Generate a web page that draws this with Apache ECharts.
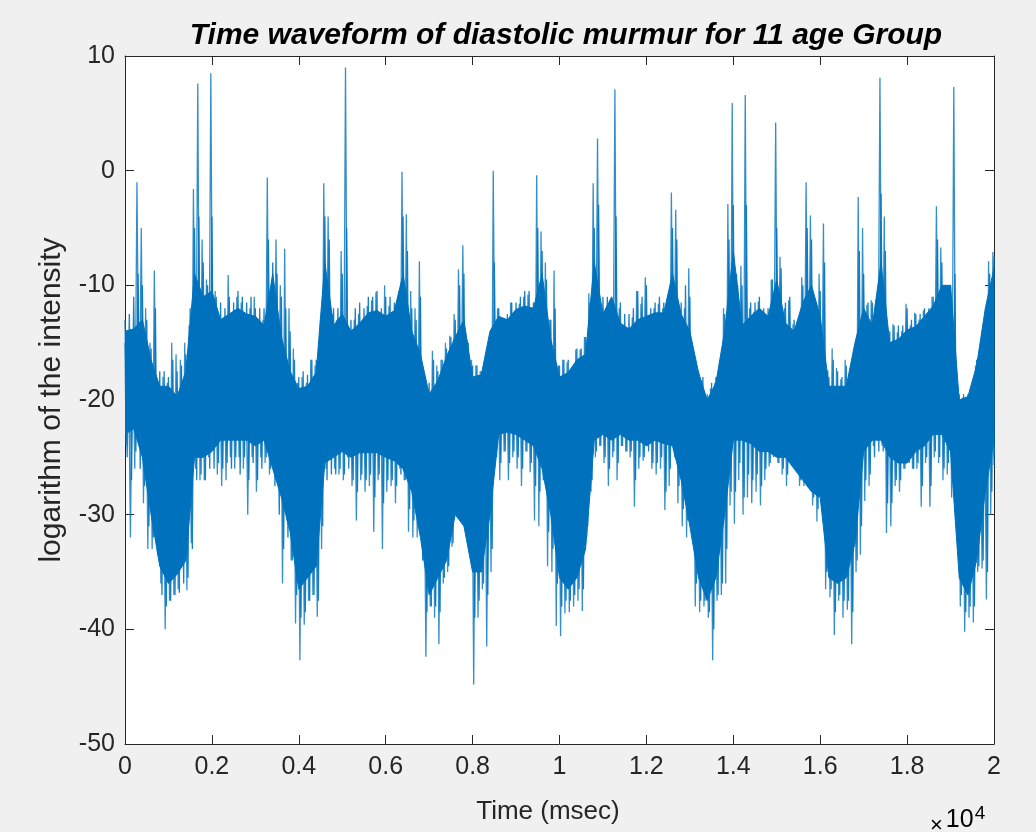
<!DOCTYPE html>
<html>
<head>
<meta charset="utf-8">
<title>Time waveform of diastolic murmur</title>
<script src="https://cdn.jsdelivr.net/npm/echarts@6/dist/echarts.min.js"></script>
<style>
  html, body { margin: 0; padding: 0; background: #f0f0f0; }
  #main { width: 1036px; height: 832px; }
</style>
</head>
<body>
<div id="main"></div>
<script>
// 采样间隔 (msec)：尖峰每 100 ms 一格，主体带每 200 ms 一格
var stepMs = 100;
var coreStepMs = 200;

// 尖峰上沿（每 100 ms）
var peakHi = [
  -15, -14.5, -14, -1, -5, -12, -15, -8.7, -19, -18,
  -18.5, -15, -16, -16.5, -15, -13.5, -1.6, 7.6, -6, -9.5,
  8.5, -10.5, -14, -13, -9.1, -12.5, -11, -11.5, -14.5, -12,
  -11, -13, -13, -0.6, -12, -6, -10, -6.8, -12, -15.5,
  -18.5, -18, -18.5, -16.5, -17, -16.5, -1.1, -4, -12.5, -13,
  -7, 9.0, -14, -13, -12.5, -13, -11.8, -11.3, -10.6, -13.5,
  -10, -11.8, -13, -11, -0.1, -3.8, -10.5, -12, -7.9, -19.5,
  -19, -15.7, -17, -16.5, -15, -14.4, -12.5, -8.6, -6.5, -14.8,
  -16.5, -17, -17.5, -17, -17.5, 0, -12, -14, -13.5, -11.5,
  -12.2, -11.6, -11, -10.8, -13, -0.4, -5.3, -8, -13, -8.7,
  -17, -16.5, -16.7, -19, -15.6, -15.6, -14.5, -10.7, -1.1, 2.8,
  -12, -12, -13.5, 7.1, -12, -13.5, -13.7, -12.8, -10.5, -11.6,
  -9.3, -12.7, -12, -11.6, -12, -11.6, -1.9, -3.4, -12.5, -12,
  -8.5, -16.7, -18.3, -18.3, -20, -19, -18.5, -17.2, -12, -2.9,
  5.9, -9, -8.3, 6.6, -12, -12.3, -11.4, -13, -12.8, -9.5,
  4.2, -7.5, -12, -11.3, -13.4, -14, -9.3, -1, -3.9, -12,
  -9, -4.6, -17.4, -15.5, -17.2, -18.2, -16.5, -18.5, -17, -2.3,
  -5, -11.7, -11.3, -11.6, 8.1, -4, -14.4, -13.4, -14.1, -14,
  -11.6, -13.5, -12.4, -13, -12.2, -12.8, -11, -3.1, -6.7, -10.5,
  -10.4, 7.3, -19.5, -19.8, -19.8, -19, -17, -16.5, -15.6, -7.9,
  -7.1
];

// 尖峰下沿（每 100 ms）
var peakLo = [
  -24, -32, -26, -23, -29, -33, -33, -28, -36, -40,
  -37.5, -37, -36.5, -33.5, -36.6, -32.5, -26, -27, -27, -25,
  -24, -26.5, -27.5, -27, -25, -26, -25, -26, -30, -25,
  -28, -25, -25.5, -26.5, -25, -26, -36, -30.5, -34, -39.5,
  -42.7, -39.6, -37.5, -37, -38.9, -33, -26, -25, -26, -26.5,
  -27, -25, -27.5, -30.5, -27, -28, -27.5, -31.5, -27, -33,
  -28, -27.5, -29, -26, -27, -31.5, -32, -32, -28.6, -42.4,
  -38, -39, -41.3, -36, -35, -32.8, -29, -25, -27.5, -33,
  -44.8, -39, -36.5, -41.5, -35, -24, -27, -24.5, -27, -25,
  -26, -27.5, -24.5, -26.3, -30.5, -31, -27, -34.5, -35, -39.7,
  -40.6, -38.6, -38.5, -38, -37.5, -38.4, -32, -28, -25, -24,
  -25.5, -27.5, -25, -27, -24, -24.5, -25, -29.3, -26, -25.3,
  -24, -26, -26.5, -26, -29.6, -27.5, -24, -29, -31, -32,
  -29, -38, -38.5, -38, -39, -42.7, -37.5, -37, -36, -29.2,
  -30.8, -27, -30, -28.5, -29, -28, -29.2, -27, -25.8, -25,
  -25.5, -26.5, -27.5, -25, -26, -27.5, -27.5, -23, -29.2, -30.6,
  -27, -36.5, -37.2, -40.5, -37.5, -39, -38.3, -41.3, -35, -33.5,
  -28.8, -27.5, -24, -23.5, -24, -31.6, -31, -27.5, -28, -26,
  -25, -26, -26, -29.3, -25.5, -29.3, -25, -25.5, -27, -26.5,
  -28.5, -30, -38, -40.2, -39, -39.4, -35, -34.7, -37.4, -30,
  -25.7
];

// 次级毛刺上沿（每 100 ms）
var midHi = [
  -13, -12.5, -11, -9, -10, -13, -15.5, -12, -17.5, -17.5,
  -18, -16.5, -17.5, -17, -16, -12, -5, -4, -8, -10,
  -4, -11, -11.5, -12, -11, -11.5, -10.5, -11, -11.5, -11,
  -12, -12, -12, -6, -8, -9, -11, -12, -14, -16.5,
  -18, -17.5, -17.8, -16.5, -16.5, -13, -4, -6, -12, -12,
  -9, -5, -13, -12, -11.5, -12, -11, -11, -10.5, -12,
  -11, -11, -11.5, -10.5, -4, -7, -12, -13, -11, -18,
  -18.5, -16.5, -17.5, -16.5, -15.5, -14.5, -13, -10, -9, -15,
  -17, -17, -17.5, -16.5, -16, -8, -12, -13, -12.5, -11.5,
  -11.5, -11, -10.5, -10.5, -11.5, -5, -7, -9.5, -13, -12,
  -17, -16.5, -16.5, -17.5, -15.5, -15.5, -14.5, -11.5, -5, -3,
  -11, -11, -12, -4, -11.5, -12.5, -12.5, -12, -10.5, -11,
  -10, -12, -11.5, -11, -11.5, -11, -5, -6, -11.5, -10,
  -11, -16, -17.5, -18, -19.5, -18.5, -18, -16.5, -12.5, -6,
  -3, -10, -10, -3, -11.5, -11.5, -11, -12, -12, -9.5,
  -5, -8.5, -11.5, -11, -13, -13, -10, -5, -6, -11.5,
  -10.5, -8, -18, -16.5, -17.5, -18, -17, -18, -16, -7,
  -9, -11.5, -11.5, -11.5, -2, -7, -14, -13.5, -13.5, -13.5,
  -12, -13, -12.5, -12.5, -12, -12, -11, -6, -8, -10.5,
  -10, -9, -19.5, -19.5, -19.5, -18.5, -16.5, -16, -13, -9,
  -7.5
];

// 次级毛刺下沿（每 100 ms）
var midLo = [
  -25, -27, -24.5, -26, -27.5, -31, -32, -33.5, -37, -38,
  -37.5, -37, -36.8, -36, -35.5, -33, -27, -26.5, -27, -26,
  -26, -25.5, -26, -25.5, -26, -25, -26.5, -25, -27, -25.5,
  -27, -26, -25, -26, -27.5, -30, -33, -32, -34, -37,
  -39, -38.5, -37.5, -37, -37.5, -31, -27, -26.5, -26.5, -26,
  -26.5, -26, -27, -28, -26.5, -27, -26.5, -28.5, -26.5, -29,
  -27, -27, -27.5, -26.5, -27, -29.5, -30.5, -31, -34, -38.5,
  -38, -38, -38.5, -35.5, -34.5, -32.5, -30, -28.5, -31, -33.5,
  -39, -37.5, -36, -37, -33, -25, -25.5, -24.5, -25.5, -24.5,
  -25, -26, -24.5, -25.5, -27.5, -28, -27, -31.5, -33, -36,
  -38, -37.5, -37.5, -37, -36.5, -36.5, -31, -27, -24.5, -24,
  -25, -26, -24.5, -25.5, -24, -24.5, -24.5, -27, -25, -25,
  -24.5, -25.5, -25.5, -25, -28, -26, -25, -27.5, -29.5, -30.5,
  -29.5, -36, -37.5, -37.5, -38.5, -40, -37, -36, -33, -28,
  -28, -25.5, -28.5, -26.5, -27, -26.5, -27.5, -26, -25.5, -24.5,
  -25.5, -26, -26.5, -25.5, -26, -27, -27, -25, -28.5, -29.5,
  -27.5, -35, -36.5, -38.5, -37, -37.5, -37.5, -38.5, -34, -31,
  -27, -26.5, -25, -24.5, -24.5, -29, -29, -27, -27, -26,
  -25.5, -26, -25.5, -27.5, -25, -27.5, -24.5, -25, -26, -25.5,
  -27, -31, -37, -38.5, -38, -38, -34.5, -34, -35, -28,
  -25
];

// 密集主体带上沿（每 200 ms）
var coreTop = [
  -14, -13.8, -13, -16.5, -18.8, -18.8, -19.7, -17.5, -9, -11,
  -10.5, -13, -12.5, -12, -12.5, -12.7, -13.5, -9, -14.5, -17.5,
  -19, -18.8, -17.6, -8, -13.5, -12.5, -14, -13.3, -12.4, -12.2,
  -12.7, -12.2, -9, -14, -16, -19.5, -18.3, -16.2, -14.5, -13,
  -18, -17.8, -14, -12.7, -13, -12.1, -11.8, -12, -9, -14.7,
  -18, -17.6, -16.5, -16, -8, -12.5, -11, -13.3, -13.8, -13,
  -12.7, -12.4, -12.4, -9, -12.5, -14, -17.6, -20, -18.5, -14,
  -7, -13.5, -12.7, -12, -12.7, -9.5, -13.3, -14, -11.5, -10,
  -12.7, -18.8, -18.8, -18.8, -15, -12, -13.5, -8, -15, -14.7,
  -13.9, -13.6, -12.7, -11.8, -10, -10, -20, -19.7, -17, -12,
  -8.5
];

// 密集主体带下沿（每 200 ms）
var coreBot = [
  -23, -22.5, -25, -30, -34.5, -36, -35.2, -34, -25, -25,
  -24.5, -23.5, -23.5, -23.5, -23.5, -24, -23.5, -26, -28.5, -31.5,
  -36.5, -35.5, -34.5, -25.5, -25, -24.5, -25, -24.6, -24.6, -24.6,
  -25, -25.3, -26, -28, -32, -37, -35.5, -34, -30, -31,
  -35, -35, -30, -23, -22.8, -23, -23.5, -24, -26, -30,
  -35.5, -36.5, -35.5, -33, -23.5, -23, -23.5, -23, -23.5, -23.5,
  -24, -23.5, -23.8, -24, -27, -31, -35.5, -37.5, -35.5, -30,
  -23.5, -23.5, -23.8, -24.5, -24.5, -25, -25, -26, -27, -28,
  -28.5, -35.5, -36, -35.5, -32.5, -24.5, -23.5, -23.5, -25, -25.5,
  -25.5, -24.5, -24, -23, -23, -24.5, -35.5, -37, -34, -28,
  -23.5
];

// 刻度
var xTicks = [0, 0.2, 0.4, 0.6, 0.8, 1, 1.2, 1.4, 1.6, 1.8, 2];   // ×10^4
var yTicks = [-50, -40, -30, -20, -10, 0, 10];

var xMax = 20000;

// 尖峰：上沿、下沿交替连成折线
var wave = [];
for (var k = 0; k < peakHi.length; k++) {
    var t = k * stepMs;
    wave.push([Math.max(0, t - 25), peakHi[k]]);
    wave.push([Math.min(xMax, t + 25), peakLo[k]]);
}

// 次级毛刺：错开半格
var fringe = [];
for (var m = 0; m < midHi.length; m++) {
    var tm = m * stepMs;
    fringe.push([tm, midHi[m]]);
    fringe.push([Math.min(xMax, tm + 50), midLo[m]]);
}

// 主体带：[时间, 上沿, 下沿]
var coreRows = coreTop.map(function (v, i) {
    return [i * coreStepMs, v, coreBot[i]];
});

var myChart = echarts.init(document.getElementById('main'), null, { renderer: 'canvas' });

var axisColor = '#262626';
var lineBlue = '#0072BD';
var fontFam = '"Liberation Sans", Arial, Helvetica, sans-serif';

function xAxisDef(pos, showLabel) {
    return {
        type: 'value',
        position: pos,
        min: 0,
        max: xMax,
        interval: 2000,
        axisLine: { show: true, onZero: false, lineStyle: { color: axisColor, width: 1 } },
        axisTick: { show: true, inside: true, length: 9, lineStyle: { color: axisColor } },
        splitLine: { show: false },
        axisLabel: {
            show: showLabel,
            margin: 11,
            fontSize: 25,
            fontFamily: fontFam,
            color: axisColor,
            formatter: function (v) { return String(xTicks[Math.round(v / 2000)]); }
        }
    };
}

function yAxisDef(pos, showLabel) {
    return {
        type: 'value',
        position: pos,
        min: yTicks[0],
        max: yTicks[yTicks.length - 1],
        interval: 10,
        axisLine: { show: true, onZero: false, lineStyle: { color: axisColor, width: 1 } },
        axisTick: { show: true, inside: true, length: 9, lineStyle: { color: axisColor } },
        splitLine: { show: false },
        axisLabel: {
            show: showLabel,
            margin: 10,
            fontSize: 25,
            fontFamily: fontFam,
            color: axisColor
        }
    };
}

option = {
    backgroundColor: '#f0f0f0',
    animation: false,
    grid: {
        left: 125,
        right: 42,
        top: 56,
        bottom: 88,
        show: true,
        backgroundColor: '#ffffff',
        borderWidth: 0
    },
    xAxis: [xAxisDef('bottom', true), xAxisDef('top', false)],
    yAxis: [yAxisDef('left', true), yAxisDef('right', false)],
    series: [
        {
            // 密集主体带，整体画成一个多边形
            type: 'custom',
            xAxisIndex: 0,
            yAxisIndex: 0,
            data: coreRows,
            encode: { x: 0, y: [1, 2] },
            silent: true,
            clip: true,
            z: 2,
            renderItem: function (params, api) {
                if (params.dataIndex !== 0) return null;
                var pts = [];
                for (var i = 0; i < coreRows.length; i++) {
                    pts.push(api.coord([coreRows[i][0], coreRows[i][1]]));
                }
                for (var j = coreRows.length - 1; j >= 0; j--) {
                    pts.push(api.coord([coreRows[j][0], coreRows[j][2]]));
                }
                return {
                    type: 'polygon',
                    shape: { points: pts },
                    style: { fill: lineBlue, stroke: lineBlue, lineWidth: 1 }
                };
            }
        },
        {
            type: 'line',
            xAxisIndex: 0,
            yAxisIndex: 0,
            data: fringe,
            showSymbol: false,
            clip: true,
            sampling: null,
            z: 3,
            lineStyle: { color: lineBlue, width: 1.3, opacity: 0.9 }
        },
        {
            type: 'line',
            xAxisIndex: 0,
            yAxisIndex: 0,
            data: wave,
            showSymbol: false,
            clip: true,
            sampling: null,
            z: 4,
            lineStyle: { color: lineBlue, width: 1.3, opacity: 0.8 }
        }
    ],
    graphic: [
        {
            type: 'text',
            x: 566,
            y: 36,
            style: {
                text: 'Time waveform of diastolic murmur for 11 age Group',
                font: 'italic bold 30px ' + fontFam,
                fill: '#000000',
                align: 'center',
                verticalAlign: 'middle'
            }
        },
        {
            type: 'text',
            x: 548,
            y: 812,
            style: {
                text: 'Time (msec)',
                font: '26px ' + fontFam,
                fill: axisColor,
                align: 'center',
                verticalAlign: 'middle'
            }
        },
        {
            type: 'text',
            x: 52,
            y: 400,
            rotation: Math.PI / 2,
            style: {
                text: 'logarithm of the intensity',
                font: '30px ' + fontFam,
                fill: axisColor,
                align: 'center',
                verticalAlign: 'middle'
            }
        },
        {
            type: 'text',
            x: 930,
            y: 804,
            style: {
                text: '{a|×}{b|10}{c|4}',
                rich: {
                    a: { fontSize: 22, fontFamily: fontFam, color: axisColor, verticalAlign: 'bottom', padding: [0, 3, 0, 0] },
                    b: { fontSize: 25, fontFamily: fontFam, color: axisColor },
                    c: { fontSize: 19, fontFamily: fontFam, color: axisColor, verticalAlign: 'top', padding: [0, 0, 14, 1] }
                }
            }
        }
    ]
};

myChart.setOption(option);
</script>
</body>
</html>
